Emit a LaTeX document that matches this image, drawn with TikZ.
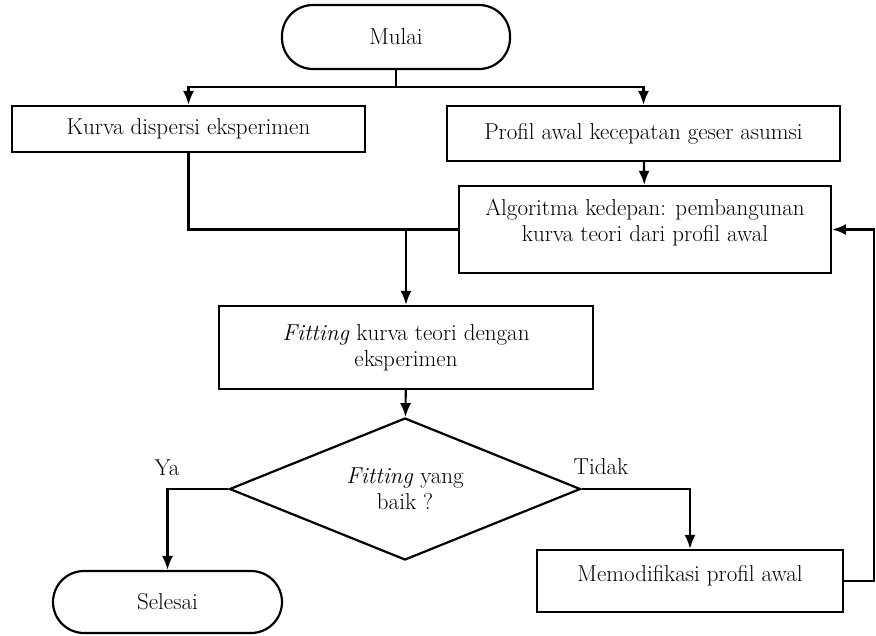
\documentclass[tikz,border=0pt]{standalone}
\usetikzlibrary{arrows.meta,shapes.geometric}
\begin{document}
\begin{tikzpicture}[x=1pt, y=-1pt, line width=2.2pt,
  font=\fontsize{23}{26}\selectfont,
  box/.style={draw, minimum width=#1, inner sep=2pt, align=center},
  terminal/.style={draw, rounded corners=31pt, minimum width=#1,
                   minimum height=62pt},
  decide/.style={draw, diamond, aspect=2.47, minimum width=351pt,
                 minimum height=142pt, inner sep=0pt, align=center},
  arr/.style={-{Latex[length=14pt,width=11pt]}}
]
  \useasboundingbox (0,0) rectangle (876,635);
  \node[terminal=228pt, minimum height=64pt] (mulai) at (396,37) {Mulai};
  \node[box=353pt, minimum height=46pt] (kurva) at (188.5,129)
        {Kurva dispersi eksperimen};
  \node[box=393pt, minimum height=55pt] (profil) at (643.5,133.5)
        {Profil awal kecepatan geser asumsi};
  \node[box=372pt, minimum height=87pt] (algo) at (645,229.5)
        {Algoritma kedepan: pembangunan\\kurva teori dari profil awal\\[-8pt]};
  \node[box=374pt, minimum height=83pt] (fitting) at (406,347.5)
        {\textit{Fitting} kurva teori dengan\\eksperimen};
  \node[decide] (baik) at (405,489) {\textit{Fitting} yang\\baik ?};
  \node[terminal=229pt] (selesai) at (167.5,602) {Selesai};
  \node[box=306pt, minimum height=62pt] (modif) at (690,581)
        {Memodifikasi profil awal\\[-10pt]};
  \node (ya) at (167,468) {Ya};
  \node (tidak) at (601,467) {Tidak};
  \coordinate (bagi) at (396,87);
  \coordinate (gabung) at (406,229.5);
  \coordinate (balik) at (874,581);
  \draw (mulai) -- (bagi);
  \draw[arr] (bagi) -| (kurva.north);
  \draw[arr] (bagi) -| (profil.north);
  \draw[arr] (profil) -- (algo);
  \draw (kurva.south) |- (algo.west);
  \draw[arr] (gabung) -- (fitting);
  \draw[arr] (fitting) -- (baik);
  \draw[arr] (baik.west) -| (selesai.north);
  \draw[arr] (baik.east) -| (modif.north);
  \draw[arr] (modif.east) -- (balik) |- (algo.east);
\end{tikzpicture}
\end{document}
